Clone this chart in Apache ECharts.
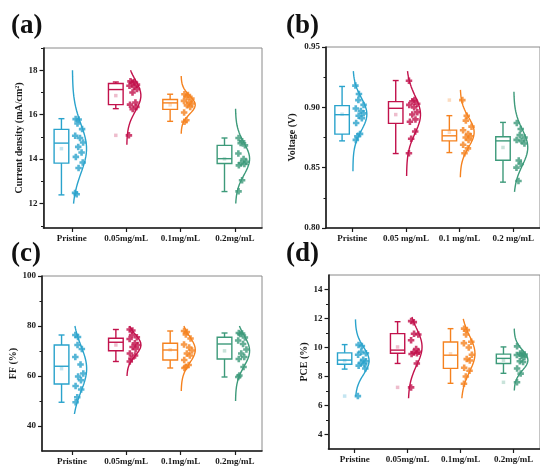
<!DOCTYPE html>
<html>
<head>
<meta charset="utf-8">
<script src="https://cdn.jsdelivr.net/npm/echarts@6/dist/echarts.min.js"></script>
<style>html,body{margin:0;padding:0;background:#fff}#c{width:540px;height:468px}</style>
</head>
<body>
<div id="c"></div>
<script>
// ---------- data ----------
const groupsA = ['Pristine', '0.05mg/mL', '0.1mg/mL', '0.2mg/mL'];
const groupsB = ['Pristine', '0.05 mg/mL', '0.1 mg/mL', '0.2 mg/mL'];

// (a) Current density (mA/cm2)
const jscPristine = [15.8, 15.78, 15.6, 15.35, 15.05, 14.95, 14.75, 14.55, 14.3, 14.1, 13.85, 13.6, 12.48, 12.42];
const jsc005 = [17.5, 17.47, 17.45, 17.35, 17.3, 17.25, 17.15, 17.0, 16.55, 16.45, 16.35, 16.25, 15.07];
const jsc01 = [16.92, 16.88, 16.8, 16.72, 16.62, 16.55, 16.5, 16.42, 16.35, 16.1, 15.75, 15.68];
const jsc02 = [14.95, 14.8, 14.72, 14.62, 14.25, 14.0, 13.88, 13.82, 13.78, 13.72, 13.05, 12.55];
const jscBox = [[12.39, 13.82, 14.72, 15.34, 15.82], [16.27, 16.45, 17.13, 17.40, 17.47], [15.70, 16.24, 16.53, 16.68, 16.92], [12.54, 13.80, 14.02, 14.62, 14.95]];
const jscOutliers = [[], [15.07], [], []];
const jscCurveRange = [[12.0, 18.0], [14.65, 18.0], [15.14, 17.74], [12.0, 16.27]];
const jscTicks = [12, 14, 16, 18];

// (b) Voltage (V)
const vocPristine = [0.918, 0.911, 0.906, 0.902, 0.899, 0.897, 0.895, 0.893, 0.891, 0.887, 0.878, 0.876, 0.873];
const voc005 = [0.922, 0.906, 0.905, 0.903, 0.902, 0.900, 0.896, 0.894, 0.890, 0.888, 0.880, 0.874, 0.862];
const voc01 = [0.906, 0.893, 0.889, 0.884, 0.881, 0.878, 0.876, 0.875, 0.873, 0.869, 0.866, 0.862];
const voc02 = [0.887, 0.882, 0.877, 0.875, 0.873, 0.872, 0.870, 0.856, 0.853, 0.850, 0.839];
const vocBox = [[0.8722, 0.8778, 0.8939, 0.9014, 0.9173], [0.8617, 0.8867, 0.8992, 0.9047, 0.9222], [0.8625, 0.8722, 0.8764, 0.8811, 0.8931], [0.838, 0.8561, 0.8722, 0.8756, 0.8875]];
const vocOutliers = [[], [], [0.906], []];
const vocCurveRange = [[0.847, 0.930], [0.843, 0.930], [0.842, 0.9145], [0.830, 0.913]];
const vocTicks = [0.80, 0.85, 0.90, 0.95];

// (c) FF (%)
const ffPristine = [76.4, 75.6, 72.4, 70.8, 67.6, 64.6, 61.0, 59.8, 58.3, 56.0, 54.6, 51.5, 49.5];
const ff005 = [78.6, 78.2, 76.4, 75.5, 74.8, 73.1, 72.4, 71.6, 70.8, 69.0, 68.2, 67.0, 65.8];
const ff01 = [78.0, 77.6, 76.6, 75.0, 72.6, 71.4, 70.2, 69.0, 68.2, 66.4, 64.4, 63.6, 63.2];
const ff02 = [77.2, 77.0, 76.8, 75.4, 74.2, 72.8, 70.6, 69.0, 67.6, 66.8, 63.6, 60.2, 59.6];
const ffBox = [[49.5, 56.8, 63.9, 72.4, 76.4], [65.8, 70.1, 73.5, 75.1, 78.6], [63.2, 66.4, 70.4, 73.1, 78.0], [59.6, 66.8, 72.8, 75.5, 77.2]];
const ffOutliers = [[], [], [], []];
const ffCurveRange = [[44.8, 80.0], [60.0, 80.0], [54.0, 80.0], [50.0, 80.0]];
const ffTicks = [40, 60, 80, 100];

// (d) PCE (%)
const pcePristine = [10.18, 10.1, 9.7, 9.6, 9.5, 9.15, 9.05, 8.95, 8.85, 8.75, 8.55, 6.65];
const pce005 = [11.82, 11.75, 10.95, 10.9, 10.5, 9.9, 9.7, 9.65, 9.6, 9.55, 8.9, 7.25];
const pce01 = [11.3, 11.2, 10.9, 10.4, 10.3, 10.0, 9.5, 9.2, 9.1, 8.6, 8.4, 8.0, 7.5];
const pce02 = [10.08, 9.62, 9.58, 9.52, 9.48, 9.42, 9.35, 9.05, 9.0, 8.55, 8.2, 7.6];
const pceBox = [[8.51, 8.84, 9.13, 9.63, 10.2], [8.9, 9.6, 9.82, 10.96, 11.78], [7.53, 8.56, 9.47, 10.38, 11.3], [8.22, 8.9, 9.25, 9.54, 10.04]];
const pceOutliers = [[6.65], [7.25], [], [7.6]];
const pceCurveRange = [[6.62, 11.94], [6.5, 12.1], [6.5, 11.98], [7.03, 11.3]];
const pceTicks = [4, 6, 8, 10, 12, 14];

// ---------- style / layout ----------
const colors = ['#2aa3cc', '#c2124c', '#f5821f', '#3d9a7a'];
const fadeColors = ['rgba(42,163,204,0.35)', 'rgba(194,18,76,0.35)', 'rgba(245,130,31,0.35)', 'rgba(61,154,122,0.35)'];
const FONT = 'Liberation Serif';
const jitter = [0.3, 0.75, 0.5, 0.95, 0.15, 0.6, 0.85, 0.4, 0.7, 0.2, 0.9, 0.55, 0.35, 0.8];
const PLUS = 'path://M3,0H7V3H10V7H7V10H3V7H0V3H3Z';

const panels = [
  {cats: groupsA, pts: [jscPristine, jsc005, jsc01, jsc02], box: jscBox, out: jscOutliers, range: jscCurveRange,
   ymin: 10.9, ymax: 19, major: jscTicks, minor: [11, 13, 15, 17, 19], dec: 0, name: 'Current density (mA/cm²)', nameGap: 16,
   grid: {left: 43.5, top: 48, width: 218.5, height: 180}, xmin: 0.48, xmax: 4.5, letter: '(a)', lx: 11, ly: 30},
  {cats: groupsB, pts: [vocPristine, voc005, voc01, voc02], box: vocBox, out: vocOutliers, range: vocCurveRange,
   ymin: 0.80, ymax: 0.95, major: vocTicks, minor: [0.825, 0.875, 0.925], dec: 2, name: 'Voltage (V)', nameGap: 29,
   grid: {left: 326, top: 47, width: 219.5, height: 181}, xmin: 0.51, xmax: 4.5, letter: '(b)', lx: 286, ly: 30},
  {cats: groupsA, pts: [ffPristine, ff005, ff01, ff02], box: ffBox, out: ffOutliers, range: ffCurveRange,
   ymin: 30, ymax: 100, major: ffTicks, minor: [50, 70, 90], dec: 0, name: 'FF (%)', nameGap: 22,
   grid: {left: 42, top: 276, width: 220, height: 175}, xmin: 0.45, xmax: 4.5, letter: '(c)', lx: 11, ly: 258},
  {cats: groupsA, pts: [pcePristine, pce005, pce01, pce02], box: pceBox, out: pceOutliers, range: pceCurveRange,
   ymin: 3, ymax: 15, major: pceTicks, minor: [5, 7, 9, 11, 13], dec: 0, name: 'PCE (%)', nameGap: 19,
   grid: {left: 328.5, top: 275, width: 215.5, height: 174}, xmin: 0.505, xmax: 4.5, letter: '(d)', lx: 286, ly: 258}
];

const BOX_OFF = 0.19, BOX_HW = 0.135, CAP_HW = 0.055, CURVE_W = 0.26, CURVE_BASE = 0.012;

function stats(a) {
  const m = a.reduce((s, v) => s + v, 0) / a.length;
  const sd = Math.sqrt(a.reduce((s, v) => s + (v - m) * (v - m), 0) / (a.length - 1));
  return {m, sd};
}

const grids = [], xAxes = [], yAxes = [], series = [], graphics = [];

panels.forEach((p, i) => {
  grids.push(Object.assign({show: true, borderColor: '#8a8a8a', borderWidth: 1, backgroundColor: 'transparent'}, p.grid));
  xAxes.push({
    gridIndex: i, type: 'value', min: p.xmin, max: p.xmax,
    axisLine: {lineStyle: {color: '#1a1a1a', width: 1.6}},
    axisTick: {show: true, customValues: [1, 2, 3, 4], length: 4, lineStyle: {color: '#1a1a1a', width: 1.2}},
    axisLabel: {customValues: [1, 2, 3, 4], formatter: v => p.cats[Math.round(v) - 1] || '',
      fontFamily: FONT, fontWeight: 'bold', fontSize: 9, color: '#1a1a1a', margin: 6},
    splitLine: {show: false}
  });
  yAxes.push({
    gridIndex: i, type: 'value', position: 'left', min: p.ymin, max: p.ymax,
    name: p.name, nameLocation: 'middle', nameRotate: 90, nameGap: p.nameGap,
    nameTextStyle: {fontFamily: FONT, fontWeight: 'bold', fontSize: 10, color: '#1a1a1a'},
    axisLine: {show: true, lineStyle: {color: '#1a1a1a', width: 1.6}},
    axisTick: {show: true, customValues: p.major, length: 4, lineStyle: {color: '#1a1a1a', width: 1.2}},
    axisLabel: {customValues: p.major, formatter: v => Number(v).toFixed(p.dec),
      fontFamily: FONT, fontWeight: 'bold', fontSize: 9, color: '#1a1a1a', margin: 6},
    splitLine: {show: false}
  });
  yAxes.push({
    gridIndex: i, type: 'value', position: 'left', offset: 0, min: p.ymin, max: p.ymax,
    axisLine: {show: false}, axisLabel: {show: false}, splitLine: {show: false},
    axisTick: {show: true, customValues: p.minor, length: 2.5, lineStyle: {color: '#1a1a1a', width: 1}}
  });
  const yi = 2 * i;

  // box plots
  series.push({
    type: 'custom', xAxisIndex: i, yAxisIndex: yi, z: 3,
    encode: {x: 0, y: [1, 2, 3, 4, 5]},
    data: p.box.map((b, k) => [k + 1].concat(b)),
    renderItem: (params, api) => {
      const k = params.dataIndex, c = api.value(0) - BOX_OFF;
      const lo = api.value(1), q1 = api.value(2), med = api.value(3), q3 = api.value(4), hi = api.value(5);
      const tl = api.coord([c - BOX_HW, q3]), br = api.coord([c + BOX_HW, q1]);
      const mL = api.coord([c - BOX_HW, med]), mR = api.coord([c + BOX_HW, med]);
      const top = api.coord([c, hi]), bot = api.coord([c, lo]);
      const capL = api.coord([c - CAP_HW, hi]), capR = api.coord([c + CAP_HW, hi]);
      const capL2 = api.coord([c - CAP_HW, lo]), capR2 = api.coord([c + CAP_HW, lo]);
      const st = {stroke: colors[k], lineWidth: 1.4, fill: null};
      return {type: 'group', children: [
        {type: 'rect', shape: {x: tl[0], y: tl[1], width: br[0] - tl[0], height: br[1] - tl[1]}, style: Object.assign({}, st, {fill: 'rgba(255,255,255,0)'})},
        {type: 'line', shape: {x1: mL[0], y1: mL[1], x2: mR[0], y2: mR[1]}, style: st},
        {type: 'line', shape: {x1: top[0], y1: top[1], x2: top[0], y2: tl[1]}, style: st},
        {type: 'line', shape: {x1: bot[0], y1: br[1], x2: bot[0], y2: bot[1]}, style: st},
        {type: 'line', shape: {x1: capL[0], y1: capL[1], x2: capR[0], y2: capR[1]}, style: st},
        {type: 'line', shape: {x1: capL2[0], y1: capL2[1], x2: capR2[0], y2: capR2[1]}, style: st}
      ]};
    }
  });

  p.pts.forEach((arr, k) => {
    const c = k + 1;
    const s = stats(arr);
    const ratio = v => Math.exp(-0.5 * Math.pow((v - s.m) / s.sd, 2));
    // normal distribution curve
    const [lo, hi] = p.range[k];
    const curve = [];
    const N = 80;
    for (let t = 0; t <= N; t++) {
      const v = lo + (hi - lo) * t / N;
      curve.push([c + CURVE_BASE + CURVE_W * ratio(v), v]);
    }
    series.push({type: 'line', xAxisIndex: i, yAxisIndex: yi, data: curve, showSymbol: false, symbol: 'none',
      lineStyle: {color: colors[k], width: 1.4}, z: 2, silent: true});
    // data points
    series.push({type: 'scatter', xAxisIndex: i, yAxisIndex: yi, z: 4, symbol: PLUS, symbolSize: 6.5,
      itemStyle: {color: colors[k]},
      data: arr.map((v, j) => [c + 0.035 + jitter[j % jitter.length] * (0.04 + 0.17 * ratio(v)), v])});
    // mean marker and outliers (faint, at box centre)
    series.push({type: 'scatter', xAxisIndex: i, yAxisIndex: yi, z: 4, symbol: 'rect', symbolSize: 3.5,
      itemStyle: {color: fadeColors[k]},
      data: [[c - BOX_OFF, s.m]].concat(p.out[k].map(v => [c - BOX_OFF, v]))});
  });

  graphics.push({type: 'text', left: p.lx, top: p.ly - 17, style: {text: p.letter, font: 'bold 27px "Liberation Serif"', fill: '#111'}});
});

const chart = echarts.init(document.getElementById('c'), null, {renderer: 'canvas'});
chart.setOption({
  animation: false,
  backgroundColor: '#fff',
  grid: grids, xAxis: xAxes, yAxis: yAxes, series: series, graphic: graphics
});
</script>
</body>
</html>
